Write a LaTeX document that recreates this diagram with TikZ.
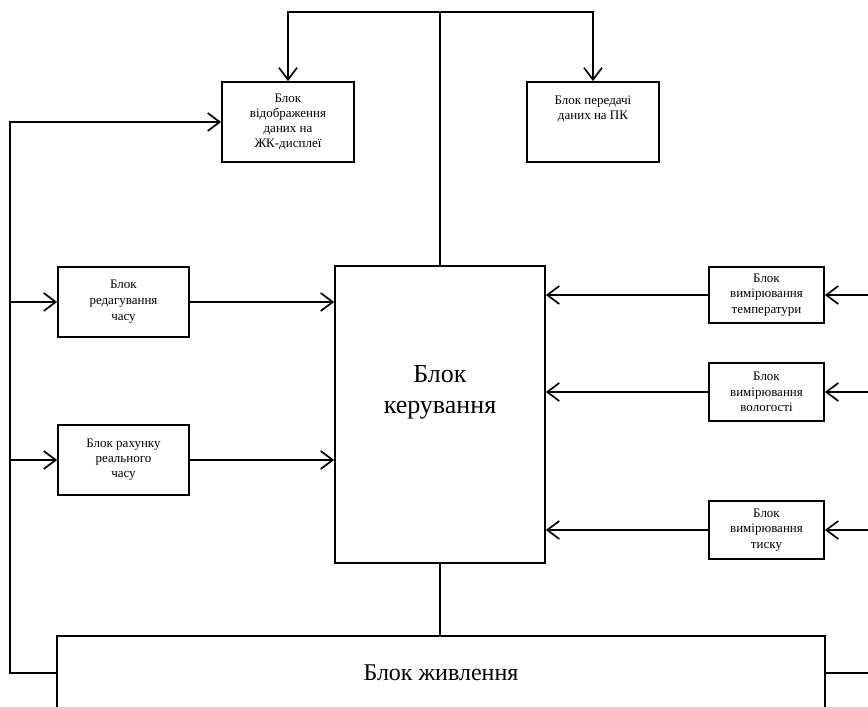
\documentclass[tikz,border=0pt]{standalone}
\usepackage{fontspec}
\setmainfont{Liberation Serif}
\usetikzlibrary{arrows.meta}
\begin{document}
\begin{tikzpicture}[x=1pt,y=-1pt,
  blk/.style={draw, line width=1.7pt, inner sep=0pt, align=center, fill=white,
    font=\fontsize{13}{15.5}\selectfont},
  arr/.style={line width=1.7pt, -{Straight Barb[length=12pt,width=18pt]}},
  ln/.style={line width=1.7pt}]
\fill[white] (0,0) rectangle (868,707);
\clip (0,0) rectangle (868,707);
% blocks
\node[blk, minimum width=132pt, minimum height=80pt, font=\fontsize{13}{15}\selectfont] (lcd) at (288,122)
  {Блок\\відображення\\даних на\\ЖК-дисплеї};
\node[blk, minimum width=132pt, minimum height=80pt] (pc) at (593,122)
  {\raisebox{10pt}[0pt][0pt]{\begin{tabular}{@{}c@{}}Блок передачі\\даних на ПК\end{tabular}}};
\node[blk, minimum width=131pt, minimum height=70pt, font=\fontsize{13}{16}\selectfont] (edit) at (123.5,302)
  {Блок\\редагування\\часу};
\node[blk, minimum width=131pt, minimum height=70pt, font=\fontsize{13}{15}\selectfont] (rt) at (123.5,460)
  {Блок рахунку\\реального\\часу};
\node[blk, minimum width=210pt, minimum height=297pt] (ctrl) at (440,414.5)
  {\fontsize{26}{31}\selectfont\raisebox{16pt}[0pt][0pt]{\begin{tabular}{@{}c@{}}Блок\\керування\end{tabular}}};
\node[blk, minimum width=115pt, minimum height=56pt] (temp) at (766.5,295)
  {Блок\\вимірювання\\температури};
\node[blk, minimum width=115pt, minimum height=58pt] (hum) at (766.5,392)
  {Блок\\вимірювання\\вологості};
\node[blk, minimum width=115pt, minimum height=58pt] (pres) at (766.5,530)
  {Блок\\вимірювання\\тиску};
\node[blk, minimum width=768pt, minimum height=74pt, font=\fontsize{24}{29}\selectfont] (pwr) at (441,673)
  {Блок живлення};
% coordinates
\coordinate (top) at (440,12);
\coordinate (lb) at (10,673);
\coordinate (l1) at (10,302);
\coordinate (l2) at (10,460);
\coordinate (r1) at (868,295);
\coordinate (r2) at (868,392);
\coordinate (r3) at (868,530);
\coordinate (r4) at (868,673);
% connectors
\draw[ln] (ctrl.north) -- (top);
\draw[arr] (top) -| (lcd.north);
\draw[arr] (top) -| (pc.north);
\draw[arr] (pwr.west) -- (lb) |- (lcd.west);
\draw[arr] (l1) -- (edit.west);
\draw[arr] (l2) -- (rt.west);
\draw[arr] (edit.east) -- (edit.east -| ctrl.west);
\draw[arr] (rt.east) -- (rt.east -| ctrl.west);
\draw[ln] (ctrl.south) -- (ctrl.south |- pwr.north);
\draw[arr] (r1) -- (temp.east);
\draw[arr] (r2) -- (hum.east);
\draw[arr] (r3) -- (pres.east);
\draw[arr] (temp.west) -- (temp.west -| ctrl.east);
\draw[arr] (hum.west) -- (hum.west -| ctrl.east);
\draw[arr] (pres.west) -- (pres.west -| ctrl.east);
\draw[ln] (pwr.east) -- (r4);
\end{tikzpicture}
\end{document}
